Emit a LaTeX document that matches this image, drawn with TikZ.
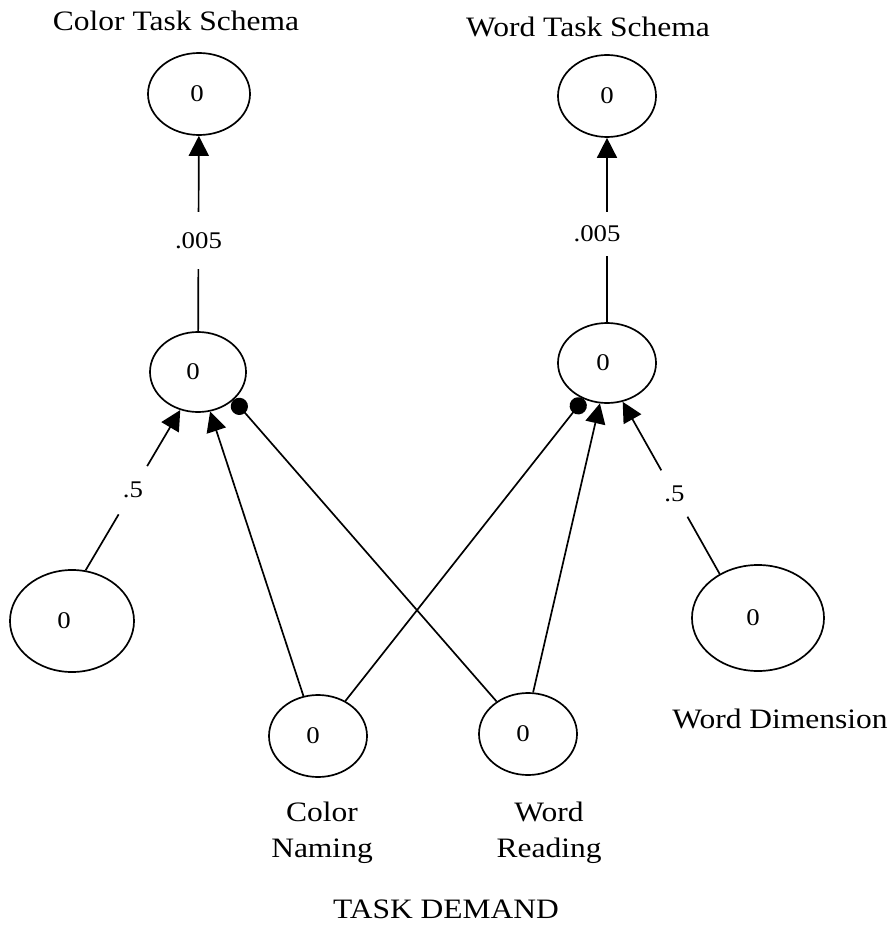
\documentclass[tikz,border=0pt]{standalone}
\usepackage{fontspec}
\setmainfont[FakeStretch=1.12]{Liberation Serif}
\usetikzlibrary{shapes.geometric,arrows.meta}
\begin{document}
\begin{tikzpicture}[x=0.025cm,y=-0.025cm,
  unit/.style={ellipse,draw,line width=1.2pt,inner sep=0pt,font=\fontsize{17}{20}\selectfont},
  big/.style={font=\fontsize{20}{25.6}\selectfont,inner sep=0pt},
  small/.style={font=\fontsize{17}{20}\selectfont,inner sep=0pt},
  arr/.style={line width=1.2pt,-{Triangle[length=0.5cm,width=0.5cm]}},
  inh/.style={line width=1.2pt,-{Circle[length=0.43cm]}},
  gap/.style={small,fill=white,inner sep=0pt}]
\useasboundingbox (0,0) rectangle (895,926);

% units
\node[unit,minimum width=2.55cm,minimum height=2.05cm] (CTS) at (199,94) {0\kern0.1cm};
\node[unit,minimum width=2.45cm,minimum height=2.05cm] (WTS) at (607,96) {0};
\node[unit,minimum width=2.4cm,minimum height=2.0cm] (CH) at (198,372) {0\kern0.25cm};
\node[unit,minimum width=2.45cm,minimum height=2.0cm] (WH) at (607,363) {0\kern0.2cm};
\node[unit,minimum width=3.1cm,minimum height=2.55cm] (CD) at (72,621) {0\kern0.4cm};
\node[unit,minimum width=3.3cm,minimum height=2.65cm] (WD) at (758,618) {0\kern0.25cm};
\node[unit,minimum width=2.45cm,minimum height=2.05cm] (CN) at (318,736) {0\kern0.25cm};
\node[unit,minimum width=2.45cm,minimum height=2.05cm] (WR) at (528,734) {0\kern0.25cm};

% labels
\node[big,anchor=base] (tCTS) at (176,31) {Color Task Schema};
\node[big,anchor=base] (tWTS) at (588,37) {Word Task Schema};
\node[big,anchor=base,align=center] (tCN) at (322,857) {Color\\Naming};
\node[big,anchor=base,align=center] (tWR) at (549,857) {Word\\Reading};
\node[big,anchor=base] (tWD) at (780,728) {Word Dimension};
\node[big,anchor=base] (tTD) at (446,918) {TASK DEMAND};

% connections
\draw[arr] (CH) -- node[gap,pos=0.464,minimum height=1.425cm,minimum width=1.3cm] {.005} (CTS);
\draw[arr] (WH) -- node[gap,pos=0.478,minimum height=1.1cm,minimum width=1.3cm,xshift=-0.25cm] {.005} (WTS);
\draw[arr] (CD.75) -- node[gap,circle,pos=0.5,minimum size=1.4cm] {.5} (CH.245);
\draw[arr] (WD.131) -- node[gap,circle,pos=0.467,minimum size=1.33cm] {.5} (WH.292);
\draw[arr] (CN.110) -- (CH.287);
\draw[inh] (WR.134) -- (CH.322);
\draw[inh] (CN.52) -- (WH.237);
\draw[arr] (WR.83) -- (WH.260);
\end{tikzpicture}
\end{document}
